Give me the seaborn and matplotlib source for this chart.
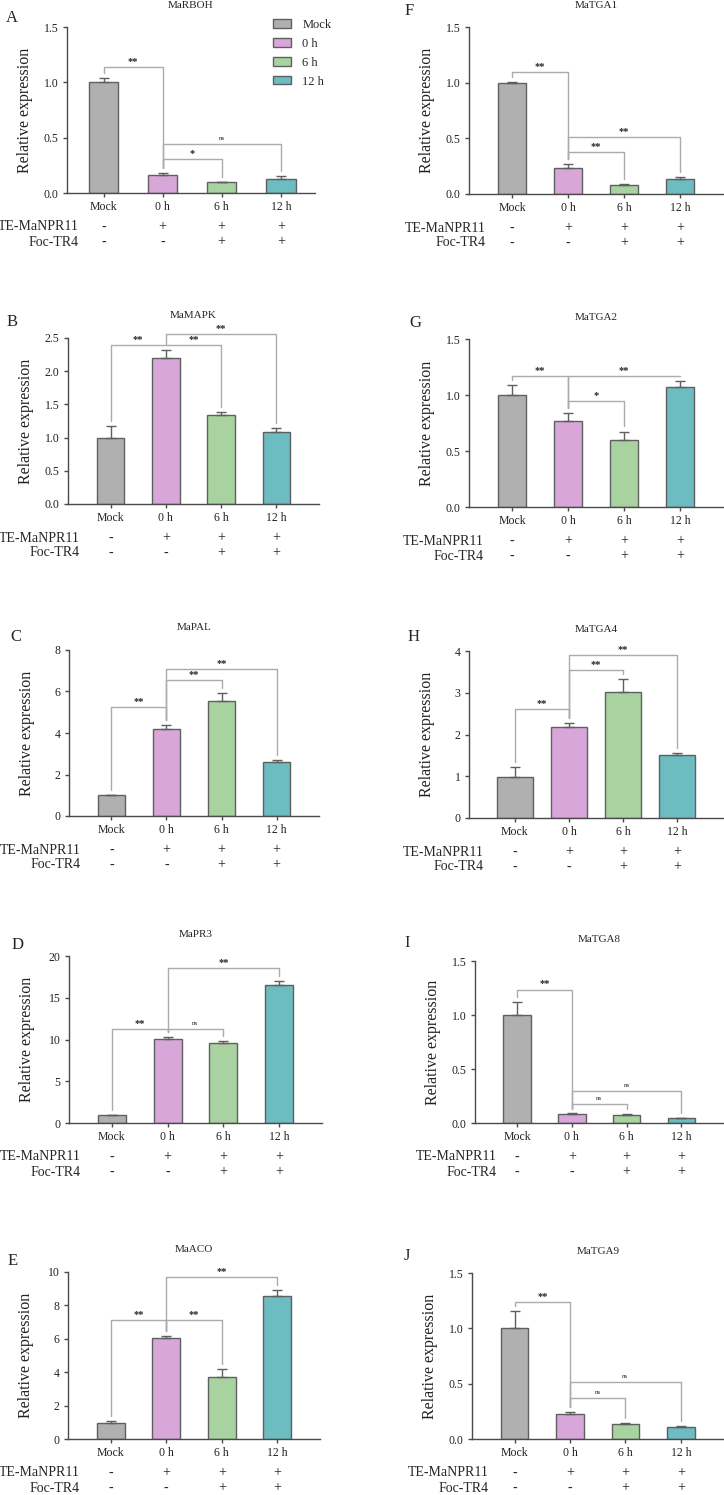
import matplotlib.pyplot as plt
import seaborn as sns

# groups, colours and treatment table
groups = ['Mock', '0 h', '6 h', '12 h']
colors = ['#b0b0b0', '#d8a6d8', '#a8d3a0', '#6cbcc1']
te_row = ['-', '+', '+', '+']
foc_row = ['-', '-', '+', '+']

# relative expression (mean, upper SD)
rboh_mean = [1.00, 0.165, 0.095, 0.13]
rboh_err = [0.04, 0.015, 0.005, 0.025]
rboh_sig = [(0, 1, 1.14, '**'), (1, 2, 0.31, '*'), (1, 3, 0.44, 'ns')]

mapk_mean = [1.00, 2.20, 1.335, 1.08]
mapk_err = [0.18, 0.12, 0.045, 0.065]
mapk_sig = [(0, 1, 2.40, '**'), (1, 2, 2.40, '**'), (1, 3, 2.565, '**')]

pal_mean = [1.00, 4.19, 5.53, 2.59]
pal_err = [0.03, 0.19, 0.38, 0.09]
pal_sig = [(0, 1, 5.24, '**'), (1, 2, 6.55, '**'), (1, 3, 7.07, '**')]

pr3_mean = [0.95, 10.06, 9.54, 16.58]
pr3_err = [0.05, 0.28, 0.24, 0.48]
pr3_sig = [(0, 1, 11.21, '**'), (1, 2, 11.21, 'ns'), (1, 3, 18.57, '**')]

aco_mean = [0.97, 6.06, 3.72, 8.57]
aco_err = [0.10, 0.10, 0.47, 0.33]
aco_sig = [(0, 1, 7.12, '**'), (1, 2, 7.12, '**'), (1, 3, 9.70, '**')]

tga1_mean = [0.995, 0.233, 0.078, 0.134]
tga1_err = [0.01, 0.035, 0.014, 0.021]
tga1_sig = [(0, 1, 1.10, '**'), (1, 2, 0.376, '**'), (1, 3, 0.516, '**')]

tga2_mean = [1.00, 0.769, 0.597, 1.069]
tga2_err = [0.093, 0.069, 0.077, 0.06]
tga2_sig = [(0, 1, 1.17, '**'), (1, 2, 0.947, '*'), (1, 3, 1.17, '**')]

tga4_mean = [0.994, 2.19, 3.006, 1.52]
tga4_err = [0.216, 0.09, 0.334, 0.047]
tga4_sig = [(0, 1, 2.62, '**'), (1, 2, 3.54, '**'), (1, 3, 3.91, '**')]

tga8_mean = [0.999, 0.083, 0.077, 0.043]
tga8_err = [0.123, 0.006, 0.006, 0.006]
tga8_sig = [(0, 1, 1.236, '**'), (1, 2, 0.175, 'ns'), (1, 3, 0.292, 'ns')]

tga9_mean = [1.003, 0.229, 0.139, 0.108]
tga9_err = [0.154, 0.015, 0.006, 0.006]
tga9_sig = [(0, 1, 1.235, '**'), (1, 2, 0.37, 'ns'), (1, 3, 0.512, 'ns')]

W, H = 724, 1495
fig = plt.figure(figsize=(W / 100, H / 100), dpi=100)
sns.set_style('ticks')
plt.rcParams['font.family'] = ['Liberation Serif', 'DejaVu Serif']

line_col = '#4a4a4a'
edge_col = '#5f5f5f'
brk_col = '#ababab'

# letter, gene, data, y max, y step, axes box (l, r, t, b px), xlim, bar width, letter xy, row-label dx
panels = [
    ('A', 'MaRBOH', rboh_mean, rboh_err, rboh_sig, 1.5, 0.5, (67, 315, 27, 193), (-0.62, 3.58), 0.5, (12, 18), 12),
    ('B', 'MaMAPK', mapk_mean, mapk_err, mapk_sig, 2.5, 0.5, (68, 319, 338, 504), (-0.77, 3.77), 0.5, (12, 322), 12),
    ('C', 'MaPAL', pal_mean, pal_err, pal_sig, 8, 2, (69, 319, 650, 816), (-0.77, 3.77), 0.5, (16, 637), 12),
    ('D', 'MaPR3', pr3_mean, pr3_err, pr3_sig, 20, 5, (69, 322, 956, 1123), (-0.77, 3.77), 0.5, (18, 945), 12),
    ('E', 'MaACO', aco_mean, aco_err, aco_sig, 10, 2, (68, 320, 1272, 1439), (-0.77, 3.77), 0.5, (13, 1261), 12),
    ('F', 'MaTGA1', tga1_mean, tga1_err, tga1_sig, 1.5, 0.5, (469, 724, 27, 194), (-0.77, 3.78), 0.5, (409, 11), 17),
    ('G', 'MaTGA2', tga2_mean, tga2_err, tga2_sig, 1.5, 0.5, (469, 724, 339, 507), (-0.77, 3.78), 0.5, (415, 323), 15),
    ('H', 'MaTGA4', tga4_mean, tga4_err, tga4_sig, 4, 1, (469, 724, 651, 818), (-0.85, 3.87), 0.66, (414, 637), 15),
    ('I', 'MaTGA8', tga8_mean, tga8_err, tga8_sig, 1.5, 0.5, (475, 724, 961, 1123), (-0.77, 3.78), 0.5, (407, 943), 22),
    ('J', 'MaTGA9', tga9_mean, tga9_err, tga9_sig, 1.5, 0.5, (472, 724, 1273, 1439), (-0.77, 3.78), 0.5, (407, 1256), 17),
]

for (letter, gene, mean, err, sig, ymax, ystep, box, xlim, bw, lxy, dx) in panels:
    l, r, t, b = box
    ax = fig.add_axes([l / W, 1 - b / H, (r - l) / W, (b - t) / H])
    sns.barplot(x=groups, y=mean, hue=groups, palette=colors, width=bw,
                saturation=1, edgecolor=edge_col, linewidth=1, legend=False, ax=ax)
    ax.errorbar(range(4), mean, yerr=[[0] * 4, err], fmt='none',
                ecolor=edge_col, elinewidth=1, capsize=3.5, capthick=1)
    ax.set_xlim(*xlim)
    ax.set_ylim(0, ymax)
    ticks = [i * ystep for i in range(int(round(ymax / ystep)) + 1)]
    ax.set_yticks(ticks)
    if ystep < 1:
        ax.set_yticklabels([f'{v:.1f}' for v in ticks])
    else:
        ax.set_yticklabels([f'{v:g}' for v in ticks])
    for s in ['top', 'right']:
        ax.spines[s].set_visible(False)
    for s in ['left', 'bottom']:
        ax.spines[s].set_color(line_col)
        ax.spines[s].set_linewidth(1)
    ax.tick_params(axis='both', direction='out', length=3, width=1, color=line_col,
                   labelsize=8.5, pad=3, labelcolor='#222222')
    ax.set_xlabel('')
    ax.set_ylabel('Relative expression', fontsize=11.5, color='#222222')
    ax.yaxis.set_label_coords(-34 / (r - l), 0.5)

    ax.annotate(gene, xy=(0.5, 1), xycoords='axes fraction', xytext=(0, 22),
                textcoords='offset pixels', ha='center', va='center', fontsize=8)
    fig.text(lxy[0] / W, 1 - lxy[1] / H, letter, fontsize=12, ha='center', va='center')

    # treatment rows under the axis
    for name, row, off in [('TE-MaNPR11', te_row, 34), ('Foc-TR4', foc_row, 49)]:
        ax.annotate(name, xy=(0, 0), xycoords='axes fraction', xytext=(dx, -off),
                    textcoords='offset pixels', ha='right', va='center', fontsize=10)
        for i, sym in enumerate(row):
            ax.annotate(sym, xy=(i, 0), xycoords=('data', 'axes fraction'), xytext=(0, -off),
                        textcoords='offset pixels', ha='center', va='center', fontsize=10)

    # significance brackets
    gap = 0.03 * ymax
    for i, j, y, lab in sig:
        yi = mean[i] + err[i] + gap
        yj = mean[j] + err[j] + gap
        ax.plot([i, i, j, j], [yi, y, y, yj], color=brk_col, lw=1, clip_on=False)
        if lab == 'ns':
            ax.annotate(lab, xy=((i + j) / 2, y), xytext=(0, 3), textcoords='offset pixels',
                        ha='center', va='bottom', fontsize=5, annotation_clip=False)
        else:
            ax.annotate(lab, xy=((i + j) / 2, y), xytext=(0, 1), textcoords='offset pixels',
                        ha='center', va='bottom', fontsize=7.5, fontweight='bold',
                        annotation_clip=False)

    if letter == 'A':
        handles = [plt.Rectangle((0, 0), 1, 1, facecolor=c, edgecolor=edge_col, lw=1) for c in colors]
        ax.legend(handles, groups, loc='upper left', bbox_to_anchor=(273 / W, 1 - 19 / H),
                  bbox_transform=fig.transFigure, frameon=False, fontsize=9,
                  handlelength=1.45, handleheight=0.65, labelspacing=0.55,
                  handletextpad=0.9, borderpad=0, borderaxespad=0)

fig.savefig('out.png', dpi=100)
plt.close(fig)
